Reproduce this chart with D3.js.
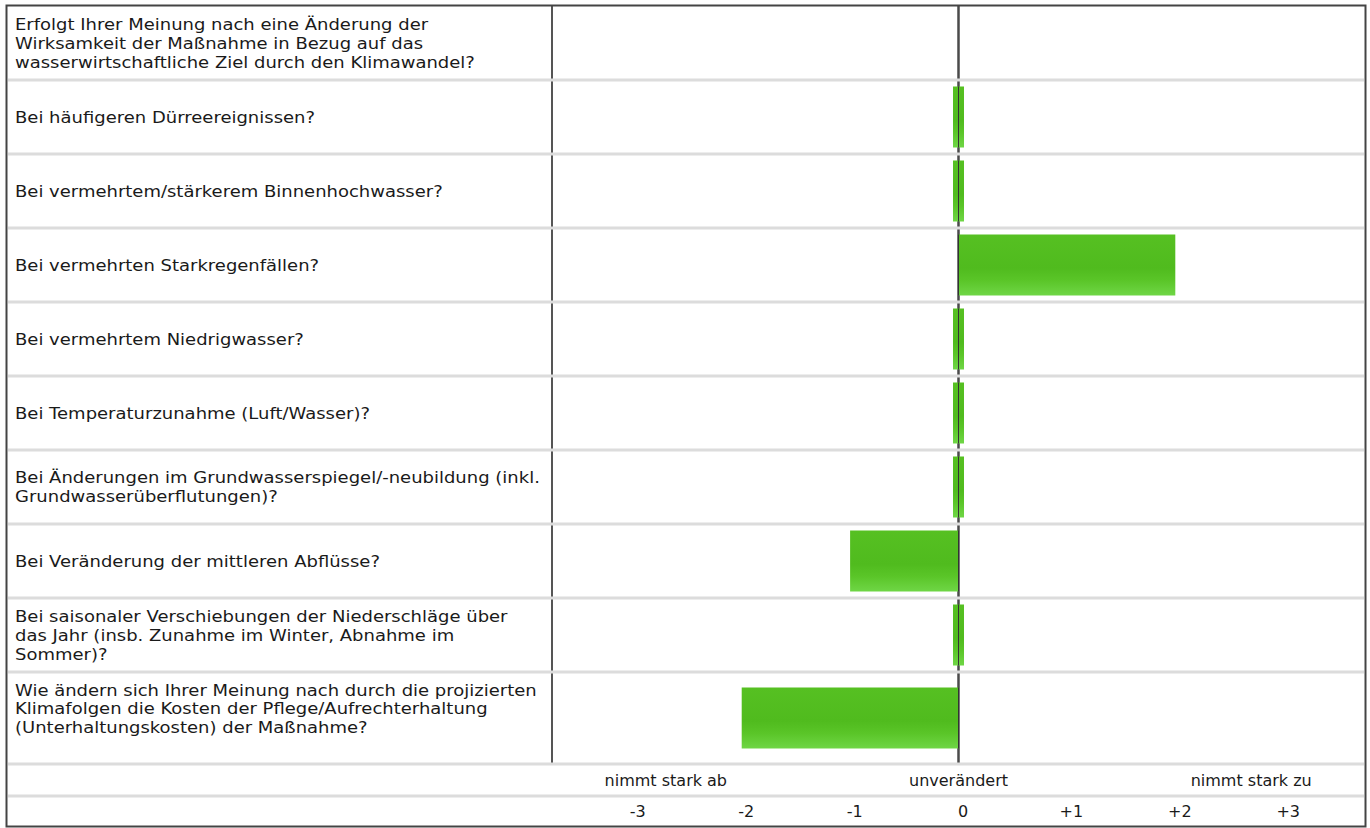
<!DOCTYPE html>
<html>
<head>
<meta charset="utf-8">
<script src="https://cdn.jsdelivr.net/npm/d3@7"></script>
<style>
  html, body { margin: 0; padding: 0; background: #fff; }
  svg { display: block; }
  text { font-family: "DejaVu Sans", sans-serif; fill: #1a1a1a; }
</style>
</head>
<body>
<svg id="chart" width="1370" height="828"></svg>
<script>
// Questions (one entry per table row, split into display lines)
const questionLines = [
  ["Erfolgt Ihrer Meinung nach eine Änderung der", "Wirksamkeit der Maßnahme in Bezug auf das", "wasserwirtschaftliche Ziel durch den Klimawandel?"],
  ["Bei häufigeren Dürreereignissen?"],
  ["Bei vermehrtem/stärkerem Binnenhochwasser?"],
  ["Bei vermehrten Starkregenfällen?"],
  ["Bei vermehrtem Niedrigwasser?"],
  ["Bei Temperaturzunahme (Luft/Wasser)?"],
  ["Bei Änderungen im Grundwasserspiegel/-neubildung (inkl.", "Grundwasserüberflutungen)?"],
  ["Bei Veränderung der mittleren Abflüsse?"],
  ["Bei saisonaler Verschiebungen der Niederschläge über", "das Jahr (insb. Zunahme im Winter, Abnahme im", "Sommer)?"],
  ["Wie ändern sich Ihrer Meinung nach durch die projizierten", "Klimafolgen die Kosten der Pflege/Aufrechterhaltung", "(Unterhaltungskosten) der Maßnahme?", ""]
];
// Rating per question (null = intro row without answer)
const ratings = [null, 0, 0, 2, 0, 0, 0, -1, 0, -2];

// Rating scale
const tickValues = [-3, -2, -1, 0, 1, 2, 3];
const tickLabels = ["-3", "-2", "-1", "0", "+1", "+2", "+3"];
const scaleWords = ["nimmt stark ab", "unverändert", "nimmt stark zu"];
const scaleWordAt = [-2.7, 0, 2.7];

// Layout
const W = 1370, H = 828;
const frame = { left: 7, top: 6, right: 1365, bottom: 826 };
const divX = 552;
const lineH = 18.8;
const fontPx = 16;
const textStretch = 1.125;
const barH = 61;
const stubW = 11;

const svg = d3.select("#chart");

const x = d3.scaleLinear().domain([-3.75, 3.75]).range([divX, frame.right]);

// Row geometry from text length
const rowH = questionLines.map(l => Math.max(74, l.length * 18.5 + 18));
const rowTop = [];
let acc = frame.top;
rowH.forEach(h => { rowTop.push(acc); acc += h; });
const tableBottom = acc;
const labelRowBottom = tableBottom + 32;

// Bar gradient
const defs = svg.append("defs");
const grad = defs.append("linearGradient").attr("id", "barGrad")
  .attr("x1", 0).attr("y1", 0).attr("x2", 0).attr("y2", 1);
grad.append("stop").attr("offset", "0%").attr("stop-color", "#56c022");
grad.append("stop").attr("offset", "55%").attr("stop-color", "#50bb1e");
grad.append("stop").attr("offset", "75%").attr("stop-color", "#5ac528");
grad.append("stop").attr("offset", "100%").attr("stop-color", "#6fd646");

svg.append("rect").attr("width", W).attr("height", H).attr("fill", "#fff");

// Vertical divider and zero line
svg.append("line")
  .attr("x1", divX).attr("x2", divX)
  .attr("y1", frame.top).attr("y2", tableBottom)
  .attr("stroke", "#555").attr("stroke-width", 2);
svg.append("line")
  .attr("x1", x(0)).attr("x2", x(0))
  .attr("y1", frame.top).attr("y2", tableBottom)
  .attr("stroke", "#4a4a4a").attr("stroke-width", 2.5);

// Row separators
const sepYs = rowTop.slice(1).concat([tableBottom, labelRowBottom]);
svg.append("g").selectAll("line").data(sepYs).join("line")
  .attr("x1", frame.left + 1).attr("x2", frame.right - 1)
  .attr("y1", d => d).attr("y2", d => d)
  .attr("stroke", "#dcdcdc").attr("stroke-width", 3);

// Question text (slightly widened glyphs)
const rows = svg.append("g")
  .attr("transform", `translate(15,0) scale(${textStretch},1)`)
  .selectAll("g").data(questionLines).join("g");
rows.each(function(lines, i) {
  const cy = rowTop[i] + rowH[i] / 2;
  const y0 = cy - (lines.length - 1) * lineH / 2;
  d3.select(this).selectAll("text").data(lines.filter(l => l.length)).join("text")
    .attr("x", 0)
    .attr("y", (d, j) => y0 + j * lineH)
    .attr("dy", "0.36em")
    .style("font-size", fontPx + "px")
    .text(d => d);
});

// Bars
const barData = ratings.map((v, i) => ({ v, i })).filter(d => d.v !== null);
svg.append("g").selectAll("rect").data(barData).join("rect")
  .attr("x", d => d.v === 0 ? x(0) - stubW / 2 : Math.min(x(0), x(d.v)))
  .attr("width", d => d.v === 0 ? stubW : Math.abs(x(d.v) - x(0)))
  .attr("y", d => rowTop[d.i] + rowH[d.i] / 2 - barH / 2)
  .attr("height", barH)
  .attr("fill", "url(#barGrad)");

// Thin zero marker across bars
svg.append("g").selectAll("line").data(barData).join("line")
  .attr("x1", x(0)).attr("x2", x(0))
  .attr("y1", d => rowTop[d.i] + rowH[d.i] / 2 - barH / 2)
  .attr("y2", d => rowTop[d.i] + rowH[d.i] / 2 + barH / 2)
  .attr("stroke", "#333").attr("stroke-width", 1);

// Verbal scale anchors
svg.append("g").selectAll("text").data(scaleWords).join("text")
  .attr("x", (d, i) => x(scaleWordAt[i]))
  .attr("y", (tableBottom + labelRowBottom) / 2)
  .attr("dy", "0.36em")
  .attr("text-anchor", "middle")
  .style("font-size", "16px")
  .text(d => d);

// Numeric axis
const axis = d3.axisBottom(x)
  .tickValues(tickValues)
  .tickSize(0)
  .tickPadding(0)
  .tickFormat((d, i) => tickLabels[i]);
const axisG = svg.append("g")
  .attr("transform", `translate(0,${(labelRowBottom + frame.bottom) / 2})`)
  .call(axis);
axisG.select(".domain").remove();
axisG.selectAll("text")
  .attr("y", 0).attr("dy", "0.36em").attr("dx", 4)
  .style("font-size", "16px")
  .style("font-family", "DejaVu Sans, sans-serif")
  .attr("fill", "#1a1a1a");

// Outer frame
svg.append("rect")
  .attr("x", frame.left - 0.5).attr("y", frame.top - 0.5)
  .attr("width", frame.right - frame.left + 1)
  .attr("height", frame.bottom - frame.top + 1)
  .attr("fill", "none").attr("stroke", "#444").attr("stroke-width", 2);
</script>
</body>
</html>
